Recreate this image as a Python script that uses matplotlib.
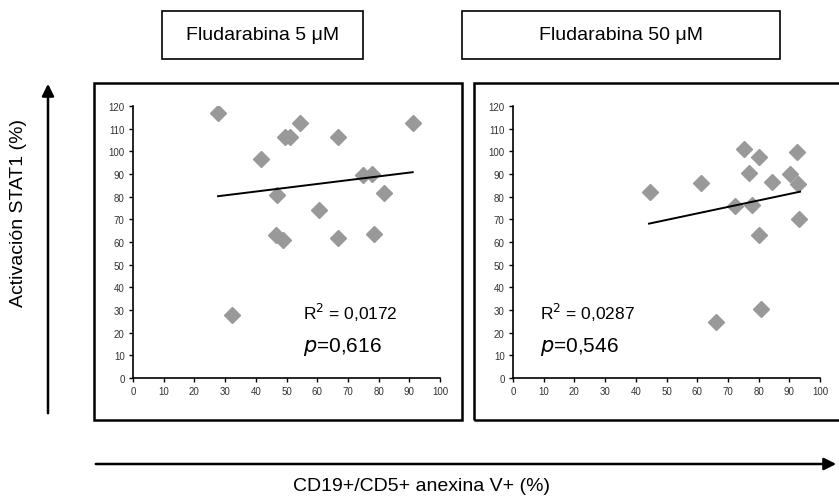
import matplotlib.pyplot as plt
from matplotlib.patches import Rectangle, FancyArrowPatch

plt.rcParams['font.family'] = ['Liberation Sans', 'DejaVu Sans']

# Fludarabina 5 uM
x5 = [27.7, 32.3, 41.6, 47.0, 46.7, 48.9, 49.5, 51.0, 54.3, 60.5, 66.8, 66.8, 75.0, 77.7, 78.5, 81.7, 91.1]
y5 = [116.8, 27.6, 96.5, 80.7, 63.1, 60.9, 106.3, 106.3, 112.4, 74.1, 106.2, 61.9, 89.4, 89.9, 63.7, 81.6, 112.4]
trend5_x = [27.7, 91.1]
trend5_y = [80.2, 90.8]

# Fludarabina 50 uM
x50 = [44.6, 61.4, 66.0, 72.3, 75.2, 77.0, 77.7, 80.2, 80.2, 80.7, 84.5, 90.2, 92.6, 92.9, 93.3]
y50 = [82.1, 85.9, 24.7, 75.9, 101.2, 90.6, 76.2, 97.6, 62.9, 30.3, 86.5, 90.1, 99.7, 85.4, 70.0]
trend50_x = [44.3, 93.5]
trend50_y = [68.1, 82.2]

titles = ['Fludarabina 5 \u03bcM', 'Fludarabina 50 \u03bcM']
r2_labels = ['R$^2$ = 0,0172', 'R$^2$ = 0,0287']
p_labels = ['0,616', '0,546']
xticks = list(range(0, 101, 10))
yticks = list(range(0, 121, 10))

W, H = 839, 502
fig = plt.figure(figsize=(W / 100, H / 100), dpi=100)


def px(x0, y0, x1, y1):
    # pixel box -> figure fraction rect
    return [x0 / W, 1 - y1 / H, (x1 - x0) / W, (y1 - y0) / H]


def panel(rect, xs, ys, tx, ty, r2, p, text_x):
    ax = fig.add_axes(rect)
    ax.plot(xs, ys, linestyle='none', marker='D', markersize=8.5,
            color='#999999', markeredgecolor='#999999')
    ax.plot(tx, ty, color='black', lw=1.4)
    ax.set_xlim(0, 100)
    ax.set_ylim(0, 120)
    ax.set_xticks(xticks)
    ax.set_yticks(yticks)
    ax.tick_params(labelsize=7, length=3, width=1, direction='out',
                   labelcolor='#333333', pad=3)
    for s in ['top', 'right']:
        ax.spines[s].set_visible(False)
    for s in ['left', 'bottom']:
        ax.spines[s].set_linewidth(1.2)
    ax.patch.set_alpha(0)
    ax.text(text_x, 29, r2, fontsize=12.5, va='center')
    ax.text(text_x, 14, r'$\it{p}$=' + p, fontsize=15, va='center')
    return ax


# outer frames
for x0, x1 in [(94, 462), (474, 852)]:
    fig.patches.append(Rectangle((x0 / W, 1 - 421 / H), (x1 - x0) / W, (421 - 84) / H,
                                 transform=fig.transFigure, fill=False,
                                 edgecolor='black', lw=1.8))

panel(px(133, 107, 440, 379), x5, y5, trend5_x, trend5_y, r2_labels[0], p_labels[0], 55.5)
panel(px(513, 107, 820, 379), x50, y50, trend50_x, trend50_y, r2_labels[1], p_labels[1], 8.8)

# title boxes
for (x0, x1), t in zip([(162, 363), (462, 780)], titles):
    fig.patches.append(Rectangle((x0 / W, 1 - 60 / H), (x1 - x0) / W, 48 / H,
                                 transform=fig.transFigure, fill=False,
                                 edgecolor='black', lw=1.2))
    fig.text((x0 + x1) / 2 / W, 1 - 36 / H, t, fontsize=14, ha='center', va='center')

# axis arrows
fig.patches.append(FancyArrowPatch((48 / W, 1 - 417 / H), (48 / W, 1 - 82 / H),
                                   transform=fig.transFigure, arrowstyle='-|>',
                                   mutation_scale=18, lw=1.8, color='black'))
fig.patches.append(FancyArrowPatch((93 / W, 1 - 465 / H), (839 / W, 1 - 465 / H),
                                   transform=fig.transFigure, arrowstyle='-|>',
                                   mutation_scale=18, lw=1.8, color='black'))

fig.text(19 / W, 1 - 213 / H, 'Activaci\u00f3n STAT1 (%)', fontsize=14,
         rotation=90, ha='center', va='center')
fig.text(421 / W, 1 - 487 / H, 'CD19+/CD5+ anexina V+ (%)', fontsize=14,
         ha='center', va='center')

fig.savefig('out.png', dpi=100)
